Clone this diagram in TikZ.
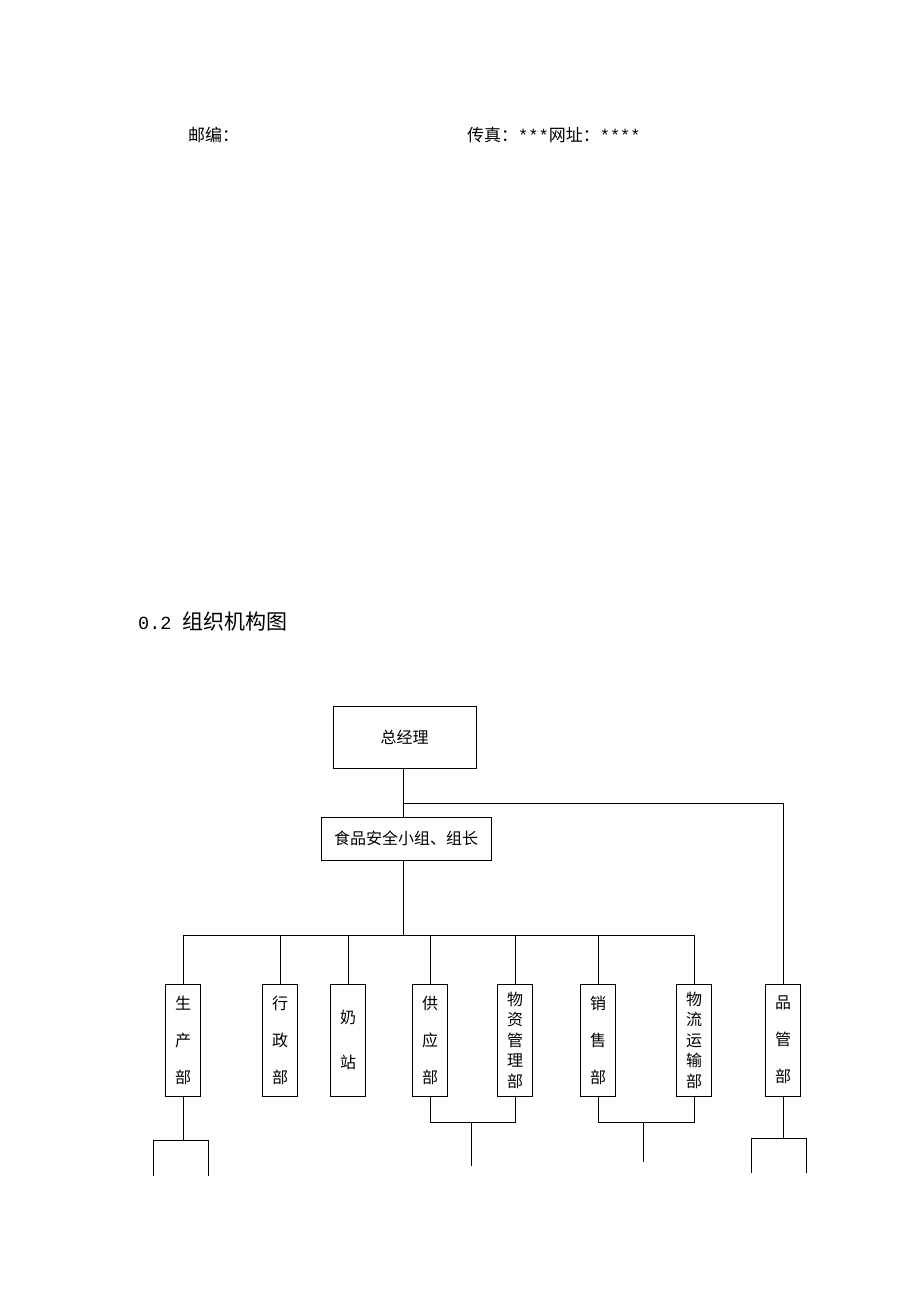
\documentclass[tikz,border=0pt]{standalone}
\usepackage{fontspec}
\setmainfont{Noto Sans CJK SC}
\newfontfamily\monof{Liberation Mono}
\begin{document}
\begin{tikzpicture}[x=1pt,y=-1pt,
  ln/.style={line width=1pt},
  hbox/.style={draw,line width=1pt,inner sep=0pt,font=\fontsize{16}{19}\selectfont},
  vbox/.style={draw,line width=1pt,inner sep=0pt,minimum width=35pt,minimum height=112pt,align=center},
  v3/.style={vbox,font=\fontsize{16}{37}\selectfont},
  v5/.style={vbox,font=\fontsize{16}{20.5}\selectfont},
  v2/.style={vbox,font=\fontsize{16}{45}\selectfont},
  txt/.style={inner sep=0pt,anchor=west,font=\fontsize{17}{20}\selectfont}]
\useasboundingbox (0,0) rectangle (920,1302);
\fill[white] (0,0) rectangle (920,1302);
% header texts
\node[txt] (zip) at (188,135) {邮编：};
\node[txt] (fax) at (467,135) {传真：{\monof ***}网址：{\monof ****}};
\node[txt,font=\fontsize{21}{25}\selectfont] (title) at (138,622) {{\monof\fontsize{18.5}{22}\selectfont 0.2 }组织机构图};
% top boxes
\node[hbox,minimum width=143pt,minimum height=62pt] (gm) at (404.5,737) {总经理};
\node[hbox,minimum width=170pt,minimum height=43pt] (fs) at (406,838.5) {食品安全小组、组长};
% departments
\node[v3] (sc) at (183,1040) {生\\产\\部};
\node[v3] (xz) at (280,1040) {行\\政\\部};
\node[v2] (nz) at (348,1040) {奶\\站};
\node[v3] (gy) at (430,1040) {供\\应\\部};
\node[v5] (wz) at (515,1040) {物\\资\\管\\理\\部};
\node[v3] (xs) at (598,1040) {销\\售\\部};
\node[v5] (wl) at (694,1040) {物\\流\\运\\输\\部};
\node[v3] (pg) at (783,1040) {品\\管\\部};
% junction coordinates
\coordinate (j1) at (403,803);
\coordinate (j2) at (783,803);
\coordinate (b0) at (403,935);
\coordinate (m1) at (471,1122);
\coordinate (m1d) at (471,1166);
\coordinate (m2) at (643,1122);
\coordinate (m2d) at (643,1162);
\coordinate (s0) at (183,1140);
\coordinate (s1) at (153,1140);
\coordinate (s2) at (208,1140);
\coordinate (s1d) at (153,1176);
\coordinate (s2d) at (208,1176);
\coordinate (p0) at (783,1138);
\coordinate (p1) at (751,1138);
\coordinate (p2) at (806,1138);
\coordinate (p1d) at (751,1173);
\coordinate (p2d) at (806,1173);
% connectors
\draw[ln] (j1 |- gm.south) -- (j1 |- fs.north);
\draw[ln] (j1) -- (j2) -- (pg.north);
\draw[ln] (b0 |- fs.south) -- (b0);
\draw[ln] (sc.north |- b0) -- (wl.north |- b0);
\foreach \n in {sc,xz,nz,gy,wz,xs,wl} \draw[ln] (\n.north |- b0) -- (\n.north);
% bottom groups
\draw[ln] (sc.south) -- (s0);
\draw[ln] (s1d) -- (s1) -- (s2) -- (s2d);
\draw[ln] (gy.south) |- (m1) -| (wz.south);
\draw[ln] (m1) -- (m1d);
\draw[ln] (xs.south) |- (m2) -| (wl.south);
\draw[ln] (m2) -- (m2d);
\draw[ln] (pg.south) -- (p0);
\draw[ln] (p1d) -- (p1) -- (p2) -- (p2d);
\end{tikzpicture}
\end{document}
